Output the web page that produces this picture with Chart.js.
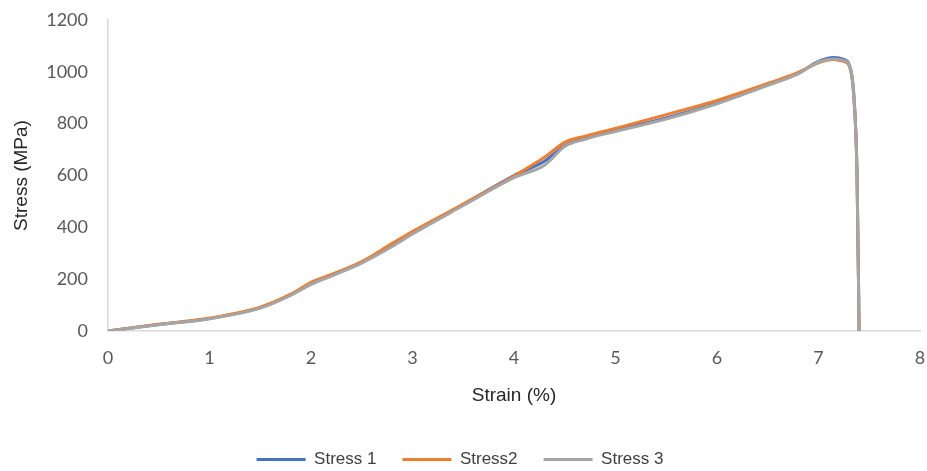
<!DOCTYPE html>
<html>
<head>
<meta charset="utf-8">
<script src="https://cdn.jsdelivr.net/npm/chart.js@4/dist/chart.umd.min.js"></script>
<style>
  html, body { margin: 0; padding: 0; background: #fff; }
  #wrap { width: 927px; height: 471px; }
</style>
</head>
<body>
<div id="wrap"><canvas id="chart"></canvas></div>
<script>
const strain = [0, 0.5, 1, 1.5, 1.8, 2, 2.2, 2.5, 2.8, 3, 3.5, 4, 4.3, 4.5, 4.7, 5, 5.5, 6, 6.5, 6.8, 7, 7.15, 7.25, 7.3, 7.35, 7.38, 7.4];

const stress1 = [0, 25, 48, 90, 140, 182, 215, 265, 330, 378, 488, 600, 655, 715, 745, 775, 822, 880, 950, 995, 1040, 1055, 1048, 1030, 900, 600, 0];
const stress2 = [0, 26, 50, 92, 142, 188, 218, 268, 338, 384, 490, 598, 670, 728, 752, 782, 835, 890, 955, 998, 1035, 1048, 1040, 1025, 890, 590, 0];
const stress3 = [0, 24, 47, 88, 137, 180, 212, 262, 326, 374, 484, 592, 640, 712, 740, 770, 818, 877, 948, 992, 1038, 1050, 1044, 1028, 895, 595, 0];

const yTicks = [0, 200, 400, 600, 800, 1000, 1200];

function points(ys) {
    return strain.map((x, i) => ({ x: x, y: ys[i] }));
}

const ctx = document.getElementById("chart").getContext("2d");

const chart = new Chart(ctx, {

    type: "scatter",

    data: {

        datasets: [

            {
                label: "Stress 1",
                data: points(stress1),
                borderColor: "#4472C4",
                backgroundColor: "#4472C4",
                order: 3
            },

            {
                label: "Stress2",
                data: points(stress2),
                borderColor: "#ED7D31",
                backgroundColor: "#ED7D31",
                order: 2
            },

            {
                label: "Stress 3",
                data: points(stress3),
                borderColor: "#A5A5A5",
                backgroundColor: "#A5A5A5",
                order: 1
            }

        ]

    },

    options: {

        responsive: true,
        maintainAspectRatio: false,
        animation: false,

        showLine: true,

        elements: {
            point: { radius: 0, hoverRadius: 0 },
            line: { borderWidth: 3, cubicInterpolationMode: "monotone" }
        },

        layout: {
            padding: { top: 20, right: 7, left: 0, bottom: -7 }
        },

        scales: {

            x: {
                type: "linear",
                min: 0,
                max: 8,
                ticks: {
                    stepSize: 1,
                    color: "#595959",
                    font: { family: "Lato", size: 18 },
                    padding: 16,
                    callback: v => String(v)
                },
                grid: { display: false, drawTicks: false },
                border: { display: true, color: "#D9D9D9", width: 1.5 },
                title: {
                    display: true,
                    text: "Strain (%)",
                    color: "#262626",
                    font: { family: "Liberation Sans", size: 19 },
                    padding: { top: 0, bottom: 18 }
                },
                afterFit: function (scale) {
                    scale.height = 94;
                    scale.paddingLeft = 0;
                    scale.paddingRight = 0;
                }
            },

            y: {
                min: 0,
                max: 1200,
                afterBuildTicks: function (scale) {
                    scale.ticks = yTicks.map(v => ({ value: v }));
                },
                ticks: {
                    color: "#595959",
                    font: { family: "Lato", size: 18 },
                    padding: 20,
                    callback: v => String(v)
                },
                grid: { display: false, drawTicks: false },
                border: { display: true, color: "#D9D9D9", width: 1.5 },
                title: {
                    display: true,
                    text: "Stress (MPa)",
                    color: "#262626",
                    font: { family: "Liberation Sans", size: 19 },
                    padding: { top: 10, bottom: 0 }
                },
                afterFit: function (scale) {
                    scale.width = 108;
                    scale.paddingTop = 0;
                    scale.paddingBottom = 0;
                }
            }

        },

        plugins: {

            legend: {
                position: "bottom",
                labels: {
                    boxWidth: 49,
                    boxHeight: 3,
                    padding: 26,
                    color: "#404040",
                    font: { family: "Liberation Sans", size: 17 },
                    sort: (a, b) => a.datasetIndex - b.datasetIndex,
                    generateLabels: function (c) {
                        const items = Chart.defaults.plugins.legend.labels.generateLabels(c);
                        items.forEach(it => { it.lineWidth = 0; });
                        return items;
                    }
                }
            },

            tooltip: { enabled: false }

        }

    }

});
</script>
</body>
</html>
